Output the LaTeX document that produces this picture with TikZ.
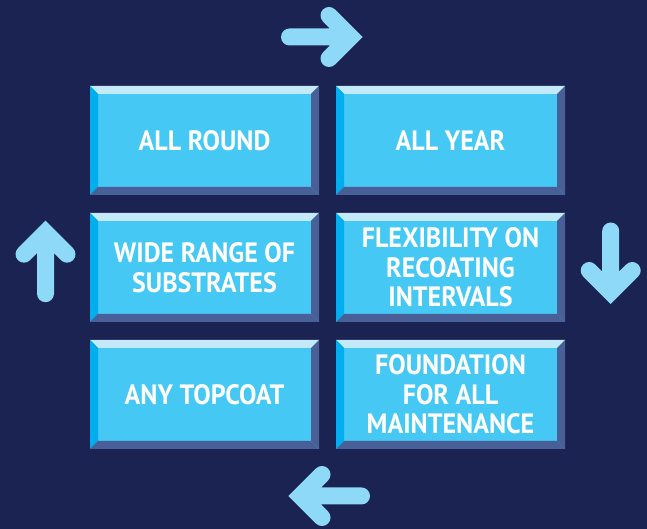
\documentclass[tikz,border=0pt]{standalone}
\usepackage{fontspec}
\setsansfont{PT Sans}[FakeStretch=0.93]
\usetikzlibrary{calc,positioning}

\definecolor{navy}{HTML}{1A2351}
\definecolor{tileface}{HTML}{45C8F4}
\definecolor{bevlight}{HTML}{C4E9F8}
\definecolor{bevcyan}{HTML}{00AEEF}
\definecolor{bevdark}{HTML}{485F98}
\definecolor{arrowblue}{HTML}{8ED8F8}

\begin{document}
\begin{tikzpicture}[x=1pt, y=1pt, node distance=246pt]

    \tikzstyle{tile}=[fill=tileface, text=white, minimum width=229pt, minimum height=109pt, inner sep=0pt, align=center,
      font=\sffamily\bfseries\fontsize{28}{29.5}\selectfont,
      path picture={
        \path (path picture bounding box.south west) coordinate (sw)
              (path picture bounding box.north east) coordinate (ne);
        \fill[bevlight] (sw |- ne) -- (ne) -- ++(-8,-8) -- ($(sw |- ne)+(8,-8)$) -- cycle;
        \fill[bevcyan] (sw) -- (sw |- ne) -- ++(8,-8) -- ($(sw)+(8,8)$) -- cycle;
        \fill[bevdark] (ne) -- (ne |- sw) -- ++(-8,8) -- ($(ne)+(-8,-8)$) -- cycle;
        \fill[bevdark] (sw) -- (ne |- sw) -- ++(-8,8) -- ($(sw)+(8,8)$) -- cycle;
      }]
    \tikzstyle{bigarrow}=[draw=arrowblue, line width=17pt, line cap=round, line join=miter]

    \fill[navy] (0,0) rectangle (647,529);
    \useasboundingbox (0,0) rectangle (647,529);

    \node[tile] (allround)   at (204.5,388.5)                    {ALL ROUND};
    \node[tile] (allyear)    [right of=allround]                 {ALL YEAR};
    \node[tile] (substrates) [below of=allround, node distance=127pt] {WIDE RANGE OF\\SUBSTRATES};
    \node[tile] (recoating)  [right of=substrates]               {FLEXIBILITY ON\\RECOATING\\INTERVALS};
    \node[tile] (topcoat)    [below of=substrates, node distance=127pt] {ANY TOPCOAT};
    \node[tile] (foundation) [right of=topcoat]                  {FOUNDATION\\FOR ALL\\MAINTENANCE};

    % cycle arrows round the tiles
    \foreach \cx/\cy/\ang in {321.5/492/0, 610.7/266/-90, 329.5/33/180, 45.5/267.3/90}
      \draw[bigarrow, shift={(\cx,\cy)}, rotate=\ang]
        (-32,0) -- (29,0) (7.5,21.5) -- (29,0) -- (7.5,-21.5);

\end{tikzpicture}
\end{document}
